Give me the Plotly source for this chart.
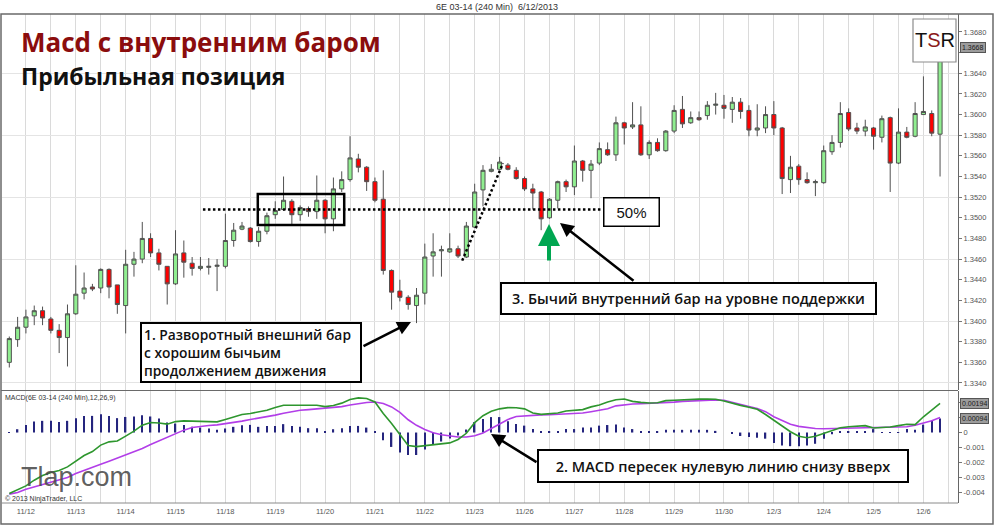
import plotly.graph_objects as go

# ---------------- data ----------------
day_labels = ["11/12", "11/13", "11/14", "11/15", "11/18", "11/19", "11/20", "11/21", "11/22",
              "11/23", "11/26", "11/27", "11/28", "11/29", "11/30", "12/3", "12/4", "12/5", "12/6"]

opens = [1.3360, 1.3382, 1.3394, 1.3405, 1.3410, 1.3402, 1.3391, 1.3384, 1.3407, 1.3427,
         1.3433, 1.3432, 1.3450, 1.3435, 1.3415, 1.3455, 1.3460, 1.3480, 1.3466, 1.3453,
         1.3436, 1.3466, 1.3456, 1.3451, 1.3452, 1.3453, 1.3453, 1.3478, 1.3489, 1.3490,
         1.3477, 1.3487, 1.3503, 1.3508, 1.3516, 1.3503, 1.3509, 1.3506, 1.3517, 1.3499,
         1.3528, 1.3537, 1.3557, 1.3549, 1.3535, 1.3518, 1.3449, 1.3429, 1.3423, 1.3415,
         1.3427, 1.3463, 1.3468, 1.3467, 1.3470, 1.3462, 1.3491, 1.3527, 1.3545, 1.3547,
         1.3551, 1.3546, 1.3538, 1.3528, 1.3525, 1.3500, 1.3517, 1.3535, 1.3530, 1.3555,
         1.3546, 1.3553, 1.3566, 1.3561, 1.3592, 1.3588, 1.3590, 1.3561, 1.3573, 1.3565,
         1.3584, 1.3605, 1.3592, 1.3597, 1.3599, 1.3609, 1.3609, 1.3605, 1.3612, 1.3604,
         1.3585, 1.3587, 1.3600, 1.3587, 1.3537, 1.3550, 1.3537, 1.3534, 1.3534, 1.3564,
         1.3573, 1.3602, 1.3587, 1.3584, 1.3587, 1.3578, 1.3597, 1.3553, 1.3583, 1.3579,
         1.3600, 1.3601, 1.3581]

highs = [1.3385, 1.3404, 1.3411, 1.3415, 1.3414, 1.3404, 1.3397, 1.3416, 1.3454, 1.3447,
         1.3436, 1.3451, 1.3451, 1.3435, 1.3469, 1.3467, 1.3496, 1.3485, 1.3470, 1.3453,
         1.3488, 1.3478, 1.3462, 1.3462, 1.3461, 1.3460, 1.3504, 1.3495, 1.3496, 1.3491,
         1.3491, 1.3505, 1.3516, 1.3540, 1.3518, 1.3512, 1.3511, 1.3541, 1.3518, 1.3539,
         1.3545, 1.3579, 1.3562, 1.3550, 1.3539, 1.3546, 1.3450, 1.3440, 1.3425, 1.3432,
         1.3475, 1.3485, 1.3473, 1.3485, 1.3473, 1.3496, 1.3533, 1.3551, 1.3552, 1.3559,
         1.3553, 1.3549, 1.3540, 1.3533, 1.3526, 1.3519, 1.3536, 1.3537, 1.3570, 1.3556,
         1.3556, 1.3573, 1.3573, 1.3598, 1.3593, 1.3612, 1.3608, 1.3575, 1.3577, 1.3585,
         1.3609, 1.3618, 1.3603, 1.3603, 1.3613, 1.3621, 1.3619, 1.3617, 1.3616, 1.3609,
         1.3610, 1.3608, 1.3613, 1.3588, 1.3560, 1.3552, 1.3544, 1.3537, 1.3570, 1.3580,
         1.3612, 1.3606, 1.3592, 1.3595, 1.3588, 1.3599, 1.3598, 1.3606, 1.3588, 1.3612,
         1.3637, 1.3604, 1.3670]

lows = [1.3355, 1.3375, 1.3388, 1.3396, 1.3396, 1.3388, 1.3369, 1.3356, 1.3406, 1.3421,
        1.3429, 1.3427, 1.3422, 1.3407, 1.3388, 1.3443, 1.3456, 1.3462, 1.3449, 1.3416,
        1.3435, 1.3442, 1.3444, 1.3449, 1.3445, 1.3429, 1.3451, 1.3472, 1.3488, 1.3476,
        1.3472, 1.3484, 1.3499, 1.3507, 1.3493, 1.3497, 1.3501, 1.3499, 1.3485, 1.3487,
        1.3525, 1.3535, 1.3544, 1.3526, 1.3515, 1.3445, 1.3411, 1.3419, 1.3411, 1.3398,
        1.3416, 1.3443, 1.3443, 1.3466, 1.3461, 1.3461, 1.3490, 1.3511, 1.3544, 1.3546,
        1.3546, 1.3537, 1.3526, 1.3508, 1.3488, 1.3499, 1.3509, 1.3525, 1.3522, 1.3535,
        1.3519, 1.3551, 1.3560, 1.3555, 1.3571, 1.3586, 1.3560, 1.3557, 1.3564, 1.3564,
        1.3582, 1.3587, 1.3591, 1.3594, 1.3595, 1.3600, 1.3596, 1.3592, 1.3596, 1.3579,
        1.3579, 1.3582, 1.3580, 1.3523, 1.3524, 1.3532, 1.3533, 1.3521, 1.3533, 1.3561,
        1.3568, 1.3584, 1.3581, 1.3579, 1.3566, 1.3573, 1.3525, 1.3552, 1.3577, 1.3578,
        1.3600, 1.3579, 1.3540]

closes = [1.3383, 1.3394, 1.3404, 1.3410, 1.3403, 1.3391, 1.3384, 1.3407, 1.3426, 1.3432,
          1.3431, 1.3450, 1.3433, 1.3416, 1.3455, 1.3460, 1.3480, 1.3466, 1.3455, 1.3436,
          1.3465, 1.3457, 1.3451, 1.3453, 1.3453, 1.3454, 1.3478, 1.3488, 1.3492, 1.3477,
          1.3487, 1.3502, 1.3507, 1.3517, 1.3503, 1.3510, 1.3506, 1.3517, 1.3499, 1.3528,
          1.3537, 1.3558, 1.3549, 1.3535, 1.3517, 1.3449, 1.3428, 1.3423, 1.3416, 1.3425,
          1.3462, 1.3467, 1.3469, 1.3470, 1.3463, 1.3492, 1.3525, 1.3546, 1.3547, 1.3554,
          1.3547, 1.3538, 1.3528, 1.3524, 1.3499, 1.3518, 1.3535, 1.3530, 1.3555, 1.3546,
          1.3552, 1.3567, 1.3561, 1.3592, 1.3587, 1.3590, 1.3561, 1.3573, 1.3565, 1.3584,
          1.3604, 1.3591, 1.3597, 1.3595, 1.3609, 1.3610, 1.3606, 1.3612, 1.3603, 1.3585,
          1.3587, 1.3600, 1.3587, 1.3538, 1.3549, 1.3537, 1.3534, 1.3535, 1.3565, 1.3573,
          1.3601, 1.3586, 1.3584, 1.3588, 1.3579, 1.3596, 1.3553, 1.3583, 1.3578, 1.3601,
          1.3603, 1.3582, 1.3668]

# MACD(12,26,9) values, in units of 0.0001
macd_e4 = [-40.7, -38.4, -35.6, -31.8, -28.7, -26.7, -25.3, -22.9, -18.9, -15.3,
           -12.7, -8.4, -6.2, -5.6, -2.4, 0.9, 4.9, 6.7, 6.4, 5.6,
           7.3, 7.8, 7.6, 7.3, 7.1, 7.1, 8.7, 10.4, 12.0, 12.7,
           13.6, 14.9, 16.7, 18.2, 18.2, 18.2, 18.2, 18.2, 17.3, 18.0,
           19.6, 22.0, 23.1, 22.7, 20.4, 12.7, 6.0, -1.5, -8.7, -9.4,
           -8.7, -8.0, -7.2, -6.9, -4.6, -0.5, 6.6, 11.2, 14.2, 15.8,
           16.6, 16.5, 15.8, 13.0, 12.1, 12.3, 13.0, 14.4, 14.7, 15.3,
           17.1, 18.3, 20.3, 21.9, 22.4, 20.8, 20.1, 19.7, 19.9, 21.3,
           21.5, 21.9, 22.2, 22.3, 22.4, 22.2, 21.0, 19.4, 18.1, 16.9,
           15.5, 12.0, 8.0, 4.5, 0.5, -2.5, -3.5, -2.5, -0.5, 1.5,
           3.2, 3.9, 4.1, 4.6, 3.0, 3.2, 3.7, 4.6, 5.5, 5.3,
           10.5, 15.0, 19.4]

signal_e4 = [-41.1, -40.0, -37.8, -36.2, -34.7, -33.1, -31.6, -30.0, -27.3, -25.1,
             -22.9, -21.1, -19.1, -17.1, -15.1, -13.1, -10.7, -8.0, -5.6, -2.9,
             -0.7, 1.6, 3.3, 4.2, 4.7, 5.1, 5.8, 6.7, 7.6, 8.7,
             9.6, 10.4, 11.6, 12.9, 14.0, 14.9, 15.3, 15.8, 16.2, 16.7,
             17.3, 18.4, 19.3, 20.0, 20.4, 19.3, 17.1, 13.5, 8.5, 4.8,
             2.0, -0.2, -1.5, -2.5, -3.0, -3.0, -2.1, -0.3, 2.7, 5.9,
             8.7, 10.7, 11.2, 11.4, 11.8, 11.9, 12.1, 12.3, 12.6, 13.0,
             13.9, 14.6, 15.8, 17.8, 18.5, 19.0, 19.2, 19.4, 19.7, 20.1,
             20.3, 20.8, 21.1, 21.5, 21.6, 21.7, 21.5, 20.3, 19.0, 17.4,
             16.0, 13.9, 10.5, 8.0, 5.5, 4.1, 3.2, 2.7, 2.5, 2.6,
             2.7, 3.0, 3.2, 3.4, 3.4, 3.4, 3.4, 3.7, 3.9, 4.8,
             6.2, 7.8, 10.0]

hist_e4 = [-0.3, 2.2, 5.1, 7.3, 7.8, 7.8, 7.1, 7.8, 9.6, 11.1,
           11.1, 12.2, 11.1, 9.6, 10.4, 10.7, 11.6, 10.7, 9.3, 6.7,
           6.0, 5.1, 3.8, 3.3, 2.7, 1.8, 2.7, 3.8, 4.9, 5.1,
           3.8, 4.4, 4.4, 5.6, 4.4, 3.8, 2.9, 2.9, 1.1, 2.2,
           2.9, 4.4, 4.4, 3.3, 0.7, -5.1, -9.6, -13.3, -15.0, -15.0,
           -11.4, -8.0, -6.0, -4.0, -2.0, 2.0, 6.9, 9.1, 10.3, 10.3,
           7.5, 5.7, 4.6, 2.3, 1.1, 0.7, 1.1, 2.3, 2.3, 3.4,
           3.4, 4.6, 5.0, 5.3, 3.4, 2.3, 1.1, 0.5, 0.7, 1.8,
           1.8, 1.8, 1.8, 1.8, 1.8, 1.1, 0.0, -0.5, -2.3, -3.0,
           -3.4, -4.1, -6.9, -8.7, -9.1, -9.1, -8.7, -7.5, -4.1, -1.1,
           0.5, 0.7, 1.1, 1.1, 2.3, -0.2, 0.2, 0.3, 2.3, 1.8,
           5.3, 8.0, 9.4]

price_ticks = [1.3340, 1.3360, 1.3380, 1.3400, 1.3420, 1.3440, 1.3460, 1.3480, 1.3500,
               1.3520, 1.3540, 1.3560, 1.3580, 1.3600, 1.3620, 1.3640, 1.3660, 1.3680]
price_ticktext = ["1.3340", "1.3360", "1.3380", "1.3400", "1.3420", "1.3440", "1.3460", "1.3480",
                  "1.3500", "1.3520", "1.3540", "1.3560", "1.3580", "1.3600", "1.3620", "1.3640",
                  "", "1.3680"]  # 1.3660 is hidden under the last-price marker
price_grid = [1.3340, 1.3400, 1.3460, 1.3520, 1.3580, 1.3640]
macd_ticks = [-0.004, -0.003, -0.002, -0.001, 0.0, 0.001, 0.002]
macd_ticktext = ["-0.004", "-0.003", "-0.002", "-0.001", "0", "", ""]  # upper ones hidden by markers

last_price = 1.3668
last_macd = 0.00194
last_diff = 0.00094
support_level = 1.3508

# ---------------- derived ----------------
bars = list(range(len(closes)))
label_pos = [2 + 6 * k for k in range(len(day_labels))]
grid_pos = list(range(2, len(closes) + 1, 3))
macd = [v * 1e-4 for v in macd_e4]
signal = [v * 1e-4 for v in signal_e4]
hist = [v * 1e-4 for v in hist_e4]

# pixel helpers (plot area 2..958 x 14..503)
L, R, T, B = 2, 958, 14, 503
def pxx(x):
    return (x - L) / (R - L)
def pxy(y):
    return (B - y) / (B - T)

fig = go.Figure()
fig.add_trace(go.Candlestick(
    x=bars, open=opens, high=highs, low=lows, close=closes,
    increasing=dict(line=dict(color='#505050', width=1), fillcolor='#90ee90'),
    decreasing=dict(line=dict(color='#505050', width=1), fillcolor='#ff0000'),
    whiskerwidth=0, xaxis='x', yaxis='y', showlegend=False, hoverinfo='skip'))
fig.add_trace(go.Bar(x=bars, y=hist, width=0.17, marker=dict(color='#25257e', line=dict(width=0)),
                     xaxis='x', yaxis='y2', showlegend=False))
fig.add_trace(go.Scatter(x=bars, y=signal, mode='lines', line=dict(color='#b23ee8', width=1.6),
                         xaxis='x', yaxis='y2', showlegend=False))
fig.add_trace(go.Scatter(x=bars, y=macd, mode='lines', line=dict(color='#2e962e', width=1.6),
                         xaxis='x', yaxis='y2', showlegend=False))

tickfont = dict(size=7.5, color='#555555', family='Liberation Sans')

fig.update_layout(
    width=995, height=526,
    margin=dict(l=L, r=995 - R, t=T, b=526 - B),
    paper_bgcolor='white', plot_bgcolor='white', showlegend=False,
    xaxis=dict(domain=[0, 1], anchor='y2', range=[-0.88, 114.16],
               rangeslider=dict(visible=False),
               tickmode='array', tickvals=label_pos, ticktext=day_labels,
               showgrid=False, zeroline=False, showline=False,
               tickfont=tickfont, ticks='', ticklabelstandoff=2,
               minor=dict(tickmode='array', tickvals=grid_pos, showgrid=True,
                          gridcolor='#dadada', gridwidth=1, ticks='')),
    yaxis=dict(domain=[pxy(390), 1], range=[1.33332, 1.36974], side='right', anchor='x',
               tickmode='array', tickvals=price_ticks, ticktext=price_ticktext,
               showgrid=False, zeroline=False,
               minor=dict(tickmode='array', tickvals=price_grid, showgrid=True,
                          gridcolor='#e4e4e4', gridwidth=1, ticks=''),
               ticks='outside', ticklen=3, tickcolor='#777777', tickfont=tickfont,
               showline=True, linecolor='#666666', linewidth=1),
    yaxis2=dict(domain=[0, pxy(391)], range=[-0.0047, 0.00277], side='right', anchor='x',
                tickmode='array', tickvals=macd_ticks, ticktext=macd_ticktext,
                showgrid=False, zeroline=False,
                ticks='outside', ticklen=3, tickcolor='#777777', tickfont=tickfont,
                showline=True, linecolor='#666666', linewidth=1),
)

shapes = []
# outer frame and panel separators
shapes.append(dict(type='rect', xref='paper', yref='paper', x0=pxx(1), x1=pxx(993),
                   y0=pxy(524), y1=pxy(14), line=dict(color='#6a6a6a', width=1.5)))
shapes.append(dict(type='line', xref='paper', yref='paper', x0=pxx(1), x1=pxx(958),
                   y0=pxy(390.5), y1=pxy(390.5), line=dict(color='#6a6a6a', width=1.2)))
shapes.append(dict(type='line', xref='paper', yref='paper', x0=pxx(1), x1=pxx(958),
                   y0=pxy(503), y1=pxy(503), line=dict(color='#8a8a8a', width=1)))
# support dotted line
shapes.append(dict(type='line', xref='x', yref='y', x0=23.3, x1=71.4,
                   y0=support_level, y1=support_level,
                   line=dict(color='black', width=2.5, dash='2.5px,2.5px')))
# diagonal dotted line
shapes.append(dict(type='line', xref='x', yref='y', x0=54.5, y0=1.34585, x1=59.4, y1=1.35528,
                   line=dict(color='black', width=2.5, dash='2.5px,2.5px')))
# rectangle around consolidation
shapes.append(dict(type='rect', xref='x', yref='y', x0=29.9, x1=40.3, y0=1.3493, y1=1.3523,
                   line=dict(color='black', width=2.5)))
# TSR logo box
shapes.append(dict(type='rect', xref='paper', yref='paper', x0=pxx(913), x1=pxx(956),
                   y0=pxy(62), y1=pxy(19), fillcolor='white', line=dict(color='#8c8c8c', width=1.2),
                   layer='above'))

fig.update_layout(shapes=shapes)

hand = 'Open Sans'
ann = []
ann.append(dict(text='6E 03-14 (240 Min)  6/12/2013', x=pxx(497), y=pxy(7), xref='paper', yref='paper',
                showarrow=False, xanchor='center', yanchor='middle',
                font=dict(size=9, color='#333333', family='Liberation Sans')))
ann.append(dict(text='Macd с внутренним баром', x=pxx(19), y=pxy(42), xref='paper', yref='paper',
                showarrow=False, xanchor='left', yanchor='middle',
                font=dict(size=26, color='#8b0d0d', family=hand, weight='bold')))
ann.append(dict(text='Прибыльная позиция', x=pxx(19), y=pxy(76), xref='paper', yref='paper',
                showarrow=False, xanchor='left', yanchor='middle',
                font=dict(size=23, color='#111111', family=hand, weight='bold')))
ann.append(dict(text='MACD(6E 03-14 (240 Min),12,26,9)', x=pxx(3), y=pxy(398), xref='paper',
                yref='paper', showarrow=False, xanchor='left', yanchor='middle',
                font=dict(size=7, color='#333333', family='Liberation Sans')))
ann.append(dict(text='© 2013 NinjaTrader, LLC', x=pxx(3), y=pxy(499), xref='paper',
                yref='paper', showarrow=False, xanchor='left', yanchor='middle',
                font=dict(size=7, color='#333333', family='Liberation Sans')))
ann.append(dict(text='Tlap.com', x=pxx(19), y=pxy(477), xref='paper', yref='paper',
                showarrow=False, xanchor='left', yanchor='middle',
                font=dict(size=27, color='rgba(75,75,75,0.9)', family='Liberation Sans')))
ann.append(dict(text="T<span style='color:#8b1a1a'>S</span>R", x=pxx(934.5), y=pxy(40.5),
                xref='paper', yref='paper', showarrow=False, xanchor='center', yanchor='middle',
                font=dict(size=20, color='#111111', family='Liberation Sans')))
# boxes with text
ann.append(dict(text='1. Разворотный внешний бар<br>с хорошим бычьим<br>продолжением движения',
                x=pxx(140), y=pxy(322), xref='paper', yref='paper', showarrow=False,
                xanchor='left', yanchor='top', align='left', valign='middle',
                width=214, height=53, bgcolor='white', bordercolor='black', borderwidth=2, borderpad=2,
                font=dict(size=13.8, color='#111111', family=hand, weight=600)))
ann.append(dict(text='3. Бычий внутренний бар на уровне поддержки',
                x=pxx(500), y=pxy(282), xref='paper', yref='paper', showarrow=False,
                xanchor='left', yanchor='top', align='center', valign='middle',
                width=369, height=25, bgcolor='white', bordercolor='black', borderwidth=2, borderpad=2,
                font=dict(size=14.5, color='#111111', family=hand, weight=600)))
ann.append(dict(text='2. MACD пересек нулевую линию снизу вверх',
                x=pxx(537), y=pxy(449), xref='paper', yref='paper', showarrow=False,
                xanchor='left', yanchor='top', align='center', valign='middle',
                width=364, height=26, bgcolor='white', bordercolor='black', borderwidth=2, borderpad=2,
                font=dict(size=14.5, color='#111111', family=hand, weight=600)))
ann.append(dict(text='50%', x=pxx(603), y=pxy(197), xref='paper', yref='paper', showarrow=False,
                xanchor='left', yanchor='top', align='center', valign='middle',
                width=50, height=23, bgcolor='white', bordercolor='black', borderwidth=1.5, borderpad=2,
                font=dict(size=15, color='#111111', family='Liberation Sans')))
# arrows
for hx, hy, tx, ty, col, w in [(411, 322, 362, 347, 'black', 2.5),
                                (560, 223, 635, 282, 'black', 2.5),
                                (491, 434, 538, 463, 'black', 2.5),
                                (549, 224, 549, 262, '#00a651', 4)]:
    ann.append(dict(text='', x=pxx(hx), y=pxy(hy), xref='paper', yref='paper',
                    ax=tx - hx, ay=ty - hy, showarrow=True, arrowhead=2, arrowsize=1.1,
                    arrowwidth=w, arrowcolor=col))
# last value markers
for val_txt, yp in [('%.4f' % last_price, 47), ('%.5f' % last_macd, 403.5), ('%.5f' % last_diff, 418)]:
    ann.append(dict(text=val_txt, x=pxx(960), y=pxy(yp), xref='paper', yref='paper', showarrow=False,
                    xanchor='left', yanchor='middle', bgcolor='#9c9c9c', bordercolor='#555555',
                    borderwidth=1, borderpad=1, font=dict(size=7, color='#1a1a1a', family='Liberation Sans')))

fig.update_layout(annotations=ann)
fig.write_html('out.html')
